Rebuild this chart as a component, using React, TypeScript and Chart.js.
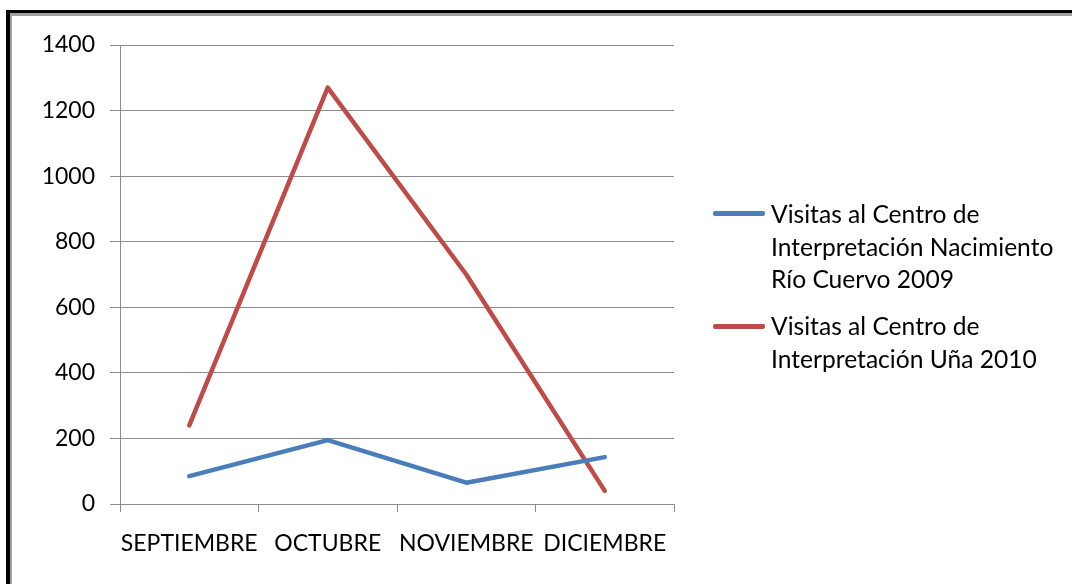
import React, { useEffect, useRef } from "react";
import { Chart, registerables } from "chart.js";

Chart.register(...registerables);

const categories = ["SEPTIEMBRE", "OCTUBRE", "NOVIEMBRE", "DICIEMBRE"];
const visits2009 = [85, 195, 65, 143];
const visits2010 = [240, 1270, 700, 40];
const label2009 = "Visitas al Centro de Interpretación Nacimiento Río Cuervo 2009";
const label2010 = "Visitas al Centro de Interpretación Uña 2010";
const legendLines2009 = ["Visitas al Centro de", "Interpretación Nacimiento", "Río Cuervo 2009"];
const legendLines2010 = ["Visitas al Centro de", "Interpretación Uña 2010"];
const yMin = 0;
const yMax = 1400;
const yStep = 200;

const BLUE = "#4A7EBB";
const RED = "#BE4B48";
const GRID = "#8c8c8c";
const FONT = "Lato, 'Noto Sans', sans-serif";

const framePlugin = {
  id: "frame",
  beforeDraw(chart: any) {
    const ctx = chart.ctx;
    ctx.save();
    ctx.fillStyle = "#ffffff";
    ctx.fillRect(0, 0, chart.width, chart.height);
    ctx.fillStyle = "#000000";
    ctx.fillRect(6, 10, 4, chart.height);
    ctx.fillRect(6, 10, chart.width, 3);
    ctx.fillStyle = "#a0a0a0";
    ctx.fillRect(10, 13, 2, chart.height);
    ctx.fillRect(10, 13, chart.width, 3);
    ctx.restore();
  },
};

export default function App() {
  const ref = useRef<HTMLCanvasElement | null>(null);

  useEffect(() => {
    if (!ref.current) return;
    const chart = new Chart(ref.current, {
      type: "line",
      data: {
        labels: categories,
        datasets: [
          {
            label: label2009,
            data: visits2009,
            borderColor: BLUE,
            backgroundColor: BLUE,
            borderWidth: 4.5,
            pointRadius: 0,
            borderCapStyle: "round",
            borderJoinStyle: "round",
            tension: 0,
          },
          {
            label: label2010,
            data: visits2010,
            borderColor: RED,
            backgroundColor: RED,
            borderWidth: 4.5,
            pointRadius: 0,
            borderCapStyle: "round",
            borderJoinStyle: "round",
            tension: 0,
          },
        ],
      },
      options: {
        responsive: false,
        animation: false,
        devicePixelRatio: 1,
        layout: { padding: { top: 45, right: 398, left: 0, bottom: 0 } },
        plugins: {
          legend: { display: false },
          tooltip: { enabled: false },
        },
        scales: {
          x: {
            type: "category",
            offset: true,
            grid: {
              offset: true,
              drawOnChartArea: false,
              drawTicks: true,
              tickLength: 8,
              color: GRID,
            },
            border: { color: GRID, width: 1 },
            ticks: {
              font: { family: FONT, size: 23 },
              color: "#000000",
              padding: 18,
              maxRotation: 0,
              autoSkip: false,
            },
            afterFit: (s: any) => {
              s.height = 80;
            },
          },
          y: {
            min: yMin,
            max: yMax,
            grid: { color: GRID, tickLength: 10, drawTicks: true },
            border: { color: GRID, width: 1 },
            ticks: {
              stepSize: yStep,
              font: { family: FONT, size: 23 },
              color: "#000000",
              padding: 15,
              callback: (v: any) => String(v),
            },
            afterFit: (s: any) => {
              s.width = 120;
            },
          },
        },
      },
      plugins: [framePlugin],
    });
    return () => chart.destroy();
  }, []);

  const textStyle: React.CSSProperties = {
    position: "absolute",
    left: 771,
    fontFamily: FONT,
    fontSize: 24.6,
    lineHeight: "32.5px",
    color: "#000",
    whiteSpace: "nowrap",
  };
  const swatch = (color: string, top: number): React.CSSProperties => ({
    position: "absolute",
    left: 713,
    top,
    width: 52,
    height: 4.5,
    borderRadius: 2,
    background: color,
  });

  return (
    <div
      style={{
        position: "fixed",
        left: 0,
        top: 0,
        width: 1072,
        height: 584,
        background: "#fff",
        overflow: "hidden",
      }}
    >
      <canvas ref={ref} width={1072} height={584} style={{ display: "block" }} />
      <div style={swatch(BLUE, 211)} />
      <div style={{ ...textStyle, top: 198 }}>
        {legendLines2009.map((l) => (
          <div key={l}>{l}</div>
        ))}
      </div>
      <div style={swatch(RED, 324)} />
      <div style={{ ...textStyle, top: 310 }}>
        {legendLines2010.map((l) => (
          <div key={l}>{l}</div>
        ))}
      </div>
    </div>
  );
}
